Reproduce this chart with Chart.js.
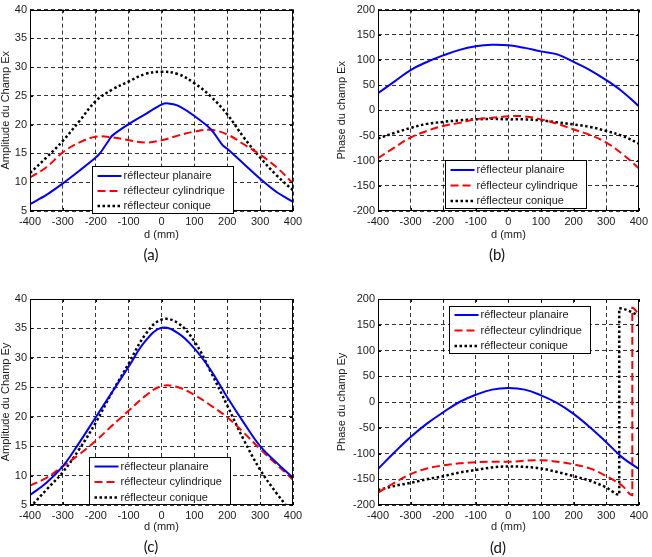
<!DOCTYPE html>
<html><head><meta charset="utf-8">
<script src="https://cdn.jsdelivr.net/npm/chart.js@4.4.1/dist/chart.umd.min.js"></script>
<style>
html,body{margin:0;padding:0;background:#fff;}
body{width:652px;height:557px;position:relative;overflow:hidden;}
canvas{position:absolute;display:block;}
.cap{position:absolute;font-family:Lato,"Open Sans",sans-serif;font-size:15px;line-height:20px;color:#111;transform:translateX(-50%);white-space:nowrap;}
</style></head><body>
<canvas id="ca" width="326" height="245" style="left:0;top:0"></canvas>
<canvas id="cb" width="322" height="245" style="left:330px;top:0"></canvas>
<canvas id="cc" width="326" height="277" style="left:0;top:280px"></canvas>
<canvas id="cd" width="322" height="277" style="left:330px;top:280px"></canvas>
<div class="cap" style="left:151px;top:244px">(a)</div>
<div class="cap" style="left:497px;top:244px">(b)</div>
<div class="cap" style="left:151px;top:536px">(c)</div>
<div class="cap" style="left:498px;top:537px">(d)</div>
<script>
// ---- data ----
const seriesNames = ['réflecteur planaire', 'réflecteur cylindrique', 'réflecteur conique'];
const dMm = [-400,-350,-300,-250,-200,-150,-100,-50,0,50,100,150,200,250,300,350,400];
const xTickValues = [-400,-300,-200,-100,0,100,200,300,400];
const ampTickValues = [5,10,15,20,25,30,35,40];
const phaseTickValues = [-200,-150,-100,-50,0,50,100,150,200];

// (a) Amplitude Ex
const dMmA = [-400,-350,-300,-250,-200,-185,-160,-150,-100,-50,0,20,50,100,150,185,200,250,300,350,400];
const ampExPlanaire   = [6.2,7.8,9.8,12.0,14.3,15.2,17.3,18.1,20.1,21.8,23.5,23.7,23.3,21.5,19.2,16.5,15.8,13.2,10.6,8.3,6.6];
const ampExCylindrique= [10.8,12.6,15.2,16.9,17.9,17.8,17.3,16.9,17.3,18.1,18.8,19.1,18.3,16.6,14.8,12.6,9.8];
const ampExConique    = [11.6,14.3,17.2,20.6,24.1,26.1,27.5,28.8,29.2,28.8,27.2,24.9,21.8,17.8,14.3,11.2,8.6];
// (b) Phase Ex
const phExPlanaire    = [34,57,80,96,109,120,127,130,129,124,117,111,96,80,60,37,8];
const phExCylindrique = [-95,-74,-54,-41,-31,-25,-18,-15,-12,-12,-18,-27,-38,-49,-64,-87,-115];
const phExConique     = [-56,-45,-35,-27,-23,-20,-18,-17,-18,-18,-20,-24,-28,-33,-41,-51,-66];
// (c) Amplitude Ey
const ampEyPlanaire   = [6.7,8.8,11.6,15.6,19.9,24.2,28.5,32.8,35.1,34.2,31.6,27.9,23.3,19.0,15.0,12.2,9.6];
const ampEyCylindrique= [8.3,9.6,11.6,13.6,15.9,18.5,21.0,23.5,25.2,25.0,23.7,21.9,19.9,17.3,14.5,11.9,9.3];
const ampEyConique    = [4.6,7.6,10.6,14.5,19.0,24.2,29.0,33.9,36.5,35.9,32.8,27.6,21.9,16.1,11.0,7.0,3.5];
// (d) Phase Ey
const phEyPlanaire    = [-130,-98,-68,-42,-20,0,14,24,27,24,13,-2,-23,-49,-78,-108,-130];
const dMmCylD = [-400,-350,-300,-250,-200,-150,-100,-50,0,50,100,150,200,250,300,350,380,380,400];
const phEyCylindrique = [-176,-157,-140,-129,-123,-119,-117,-116,-116,-114,-113,-116,-121,-129,-144,-163,-181,183,170];
const dMmConD = [-400,-350,-300,-250,-200,-150,-100,-50,0,50,100,150,200,250,300,340,340,400];
const phEyConique     = [-171,-163,-157,-150,-144,-137,-132,-127,-125,-126,-129,-136,-144,-153,-166,-180,182,168];

// ---- styles ----
const FONT = '"Liberation Sans", Arial, sans-serif';
const TXT = '#1a1a1a';
const styles = [
  {borderColor:'#0000ff', borderWidth:2, borderDash:[]},
  {borderColor:'#ff0000', borderWidth:2, borderDash:[8,4]},
  {borderColor:'#000000', borderWidth:2.5, borderDash:[2.5,2.5]}
];
function pts(xs, ys){ return xs.map((x,i)=>({x:x, y:ys[i]})); }
function mkSets(list){
  return list.map((s,i)=>Object.assign({
    label: seriesNames[i], data: pts(s[0], s[1]),
    pointRadius:0, fill:false, tension: s[2] === undefined ? 0.4 : s[2],
    cubicInterpolationMode: s[3] || 'default', borderCapStyle:'butt'
  }, styles[i]));
}

const framePlugin = {
  id:'matlabFrame',
  afterDatasetsDraw(chart, args, opts){
    const ctx = chart.ctx, a = chart.chartArea, xs = chart.scales.x, ys = chart.scales.y;
    ctx.save();
    ctx.setLineDash([]);
    ctx.strokeStyle = '#000'; ctx.lineWidth = 1;
    const ln = (x1,y1,x2,y2)=>{ctx.beginPath();ctx.moveTo(x1,y1);ctx.lineTo(x2,y2);ctx.stroke();};
    xs.ticks.forEach(t=>{ const p = Math.round(xs.getPixelForValue(t.value))+0.5; ln(p,a.bottom,p,a.bottom-3); ln(p,a.top,p,a.top+3); });
    ys.ticks.forEach(t=>{ const p = Math.round(ys.getPixelForValue(t.value))+0.5; ln(a.left,p,a.left+3,p); ln(a.right,p,a.right-3,p); });
    ctx.strokeRect(Math.round(a.left)+0.5, Math.round(a.top)+0.5, Math.round(a.width)-1, Math.round(a.height)-1);
    // legend box
    const bx = Math.round(a.left + opts.dx)+0.5, by = Math.round(a.top + opts.dy)+0.5;
    ctx.fillStyle = '#fff';
    ctx.fillRect(bx, by, opts.w, opts.h);
    ctx.strokeRect(bx, by, opts.w, opts.h);
    chart.data.datasets.forEach((ds,i)=>{
      const cy = by + opts.first + i*opts.step;
      ctx.save();
      ctx.strokeStyle = ds.borderColor; ctx.lineWidth = ds.borderWidth; ctx.setLineDash(ds.borderDash||[]);
      ln(bx+5, cy, bx+29, cy);
      ctx.restore();
      ctx.fillStyle = TXT; ctx.font = '11px ' + FONT; ctx.textBaseline = 'middle'; ctx.textAlign='left';
      ctx.fillText(ds.label, bx+31, cy);
    });
    ctx.restore();
  }
};

function makeChart(id, cfg){
  return new Chart(document.getElementById(id), {
    type:'line',
    data:{datasets: cfg.datasets},
    options:{
      responsive:false, animation:false, devicePixelRatio:1,
      layout:{padding: cfg.padding},
      plugins:{legend:{display:false}, tooltip:{enabled:false}, matlabFrame: cfg.legend},
      scales:{
        x:{type:'linear', min:-400, max:400,
           afterBuildTicks: s=>{ s.ticks = xTickValues.map(v=>({value:v})); },
           afterFit: s=>{ s.height = 30; },
           ticks:{font:{family:FONT,size:11}, color:TXT, padding:4, maxRotation:0, autoSkip:false},
           grid:{color:'rgba(0,0,0,0.8)', lineWidth:1, drawTicks:false},
           border:{display:false, dash:[4,3]},
           title:{display:true, text:'d (mm)', color:TXT, font:{family:FONT,size:11,lineHeight:1}, padding:{top:0,bottom:cfg.xTitlePad}}},
        y:{type:'linear', min:cfg.yMin, max:cfg.yMax,
           afterBuildTicks: s=>{ s.ticks = cfg.yTicks.map(v=>({value:v})); },
           afterFit: s=>{ s.width = cfg.yWidth; },
           ticks:{font:{family:FONT,size:11}, color:TXT, padding:3, autoSkip:false},
           grid:{color:'rgba(0,0,0,0.8)', lineWidth:1, drawTicks:false},
           border:{display:false, dash:[4,3]},
           title:{display:true, text:cfg.yTitle, color:TXT, font:{family:FONT,size:11,lineHeight:1}, padding:{top:cfg.yTitlePad,bottom:0}}}
      }
    },
    plugins:[framePlugin]
  });
}

const LW = 141, LH = 47;
makeChart('ca', {
  datasets: mkSets([[dMmA,ampExPlanaire,0.3],[dMm,ampExCylindrique],[dMm,ampExConique]]),
  padding:{left:0, top:8, right:33, bottom:4}, yWidth:30, yMin:5, yMax:40, yTicks:ampTickValues,
  yTitle:'Amplitude du Champ Ex', yTitlePad:0, xTitlePad:1,
  legend:{dx:62, dy:156, w:LW, h:LH, first:9.5, step:15}
});
makeChart('cb', {
  datasets: mkSets([[dMm,phExPlanaire],[dMm,phExCylindrique],[dMm,phExConique]]),
  padding:{left:0, top:8, right:11, bottom:4}, yWidth:48, yMin:-200, yMax:200, yTicks:phaseTickValues,
  yTitle:'Phase du champ Ex', yTitlePad:6, xTitlePad:1,
  legend:{dx:67, dy:150, w:LW, h:LH+1, first:9.5, step:15.5}
});
makeChart('cc', {
  datasets: mkSets([[dMm,ampEyPlanaire],[dMm,ampEyCylindrique],[dMm,ampEyConique]]),
  padding:{left:0, top:19, right:33, bottom:22}, yWidth:30, yMin:5, yMax:40, yTicks:ampTickValues,
  yTitle:'Amplitude du Champ Ey', yTitlePad:0, xTitlePad:2.5,
  legend:{dx:59, dy:158, w:LW, h:LH, first:9, step:15.5}
});
makeChart('cd', {
  datasets: mkSets([[dMm,phEyPlanaire],[dMmCylD,phEyCylindrique,0,'monotone'],[dMmConD,phEyConique,0,'monotone']]),
  padding:{left:0, top:19, right:11, bottom:22}, yWidth:48, yMin:-200, yMax:200, yTicks:phaseTickValues,
  yTitle:'Phase du champ Ey', yTitlePad:6, xTitlePad:2.5,
  legend:{dx:71, dy:7, w:LW, h:LH, first:8.5, step:15.5}
});
</script>
</body></html>
